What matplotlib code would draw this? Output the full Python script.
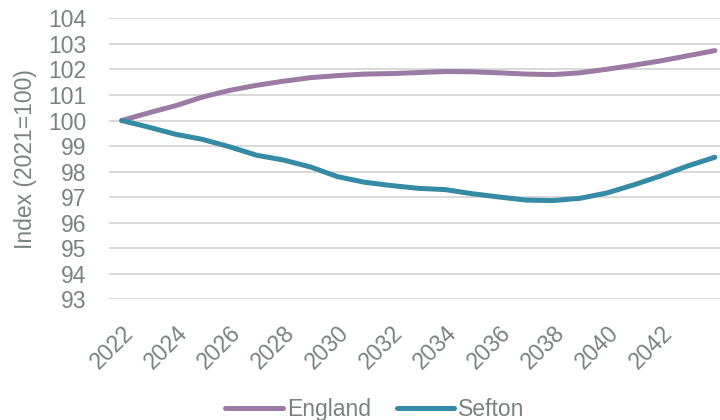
import matplotlib.pyplot as plt

plt.rcParams['font.family'] = ['Liberation Sans', 'DejaVu Sans']

# Data
years = list(range(2022, 2045))
england = [100.00, 100.30, 100.58, 100.92, 101.18, 101.38, 101.54, 101.68,
           101.76, 101.82, 101.84, 101.88, 101.92, 101.91, 101.87, 101.82,
           101.80, 101.87, 102.01, 102.17, 102.34, 102.54, 102.74]
sefton = [100.00, 99.74, 99.46, 99.26, 98.97, 98.64, 98.45, 98.18,
          97.80, 97.58, 97.45, 97.34, 97.29, 97.13, 97.00, 96.88,
          96.86, 96.95, 97.16, 97.48, 97.83, 98.22, 98.56]
xtick_years = list(range(2022, 2043, 2))
yticks = list(range(93, 105))

text_col = '#7a8280'
grid_col = '#d9d9d9'
fs = 16.5

fig = plt.figure(figsize=(7.2, 4.2), dpi=100)
ax = fig.add_axes([0.151, 0.288, 0.849, 0.668])

ax.plot(years, england, color='#9b7aa3', lw=3.6, label='England',
        solid_capstyle='round', solid_joinstyle='round', zorder=3)
ax.plot(years, sefton, color='#358aa6', lw=3.6, label='Sefton',
        solid_capstyle='round', solid_joinstyle='round', zorder=3)

ax.set_xlim(2021.52, 2044.19)
ax.set_ylim(93, 104)
ax.set_yticks(yticks)
ax.set_xticks(xtick_years)
ax.set_xticklabels([str(y) for y in xtick_years], rotation=45, ha='right',
                   va='top', rotation_mode='anchor')
ax.tick_params(axis='both', length=0, labelsize=fs, colors=text_col)
ax.tick_params(axis='x', pad=16)
ax.tick_params(axis='y', pad=16)

ax.grid(axis='y', color=grid_col, lw=1.4)
ax.set_axisbelow(True)
for s in ax.spines.values():
    s.set_visible(False)

ax.set_ylabel('Index (2021=100)', fontsize=fs, color=text_col, labelpad=8)

fig.legend(loc='center', bbox_to_anchor=(0.521, 0.025), ncol=2, frameon=False,
           fontsize=fs, labelcolor=text_col, handlelength=2.5,
           handletextpad=0.2, columnspacing=1.1)

fig.savefig('out.png', dpi=100)
